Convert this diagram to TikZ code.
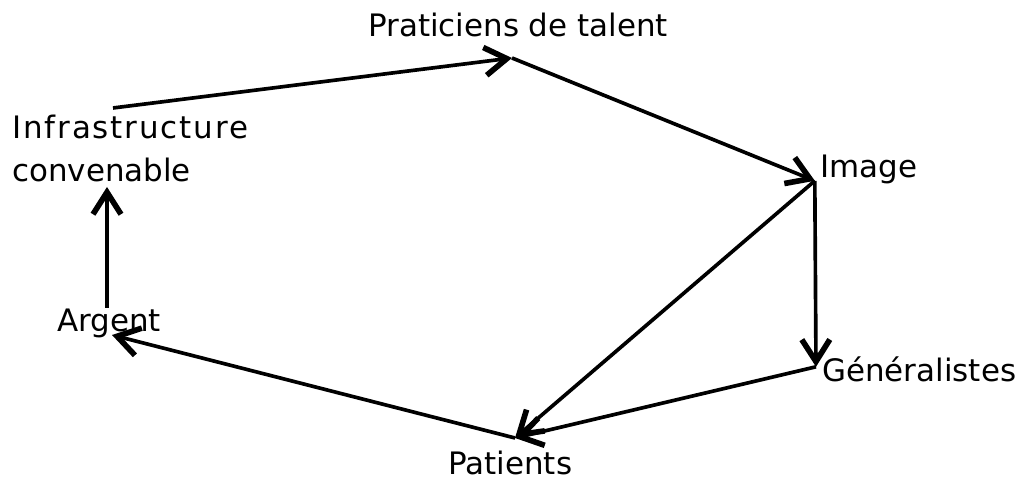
\documentclass[tikz,border=0pt]{standalone}
\usepackage{fontspec}
\setmainfont{DejaVu Sans}
\newfontfamily\widefont[LetterSpace=6]{DejaVu Sans}
\usetikzlibrary{arrows.meta}

\begin{document}
\begin{tikzpicture}[
  font=\fontsize{22}{30.6}\selectfont,
  >={Straight Barb[length=5.5mm,width=7mm,line width=4pt]},
  lbl/.style={inner sep=0pt, anchor=base west},
  flow/.style={->, draw=black, line width=2.6pt}
]
  \useasboundingbox (0,0) rectangle (25.9,12.05);
  % labels
  \node[lbl] (prat) at (9.2,11.125) {Praticiens de talent};
  \node[lbl, font=\fontsize{22}{30.6}\widefont] (infra) at (0.3,8.575) {Infrastructure};
  \node[lbl] (conv) at (0.3,7.5) {convenable};
  \node[lbl] (img) at (20.5,7.6) {Image};
  \node[lbl] (gen) at (20.55,2.5) {Généralistes};
  \node[lbl] (pat) at (11.2,0.175) {Patients};
  \node[lbl] (arg) at (1.425,3.75) {Argent};
  % connection points
  \coordinate (infraout) at (2.825,9.35);
  \coordinate (infrain) at (2.675,7.375);
  \coordinate (pratpt) at (12.8,10.6);
  \coordinate (imgpt) at (20.37,7.53);
  \coordinate (genpt) at (20.4,2.88);
  \coordinate (patpt) at (12.875,1.1);
  \coordinate (argpt) at (2.8,3.675);
  \coordinate (argout) at (2.675,4.35);
  % arrows
  \draw[flow] (infraout) -- (pratpt);
  \draw[flow] (pratpt) -- (imgpt);
  \draw[flow] (imgpt) -- (genpt);
  \draw[flow] (imgpt) -- (patpt);
  \draw[flow] (genpt) -- (patpt);
  \draw[flow] (patpt) -- (argpt);
  \draw[flow] (argout) -- (infrain);
\end{tikzpicture}
\end{document}
